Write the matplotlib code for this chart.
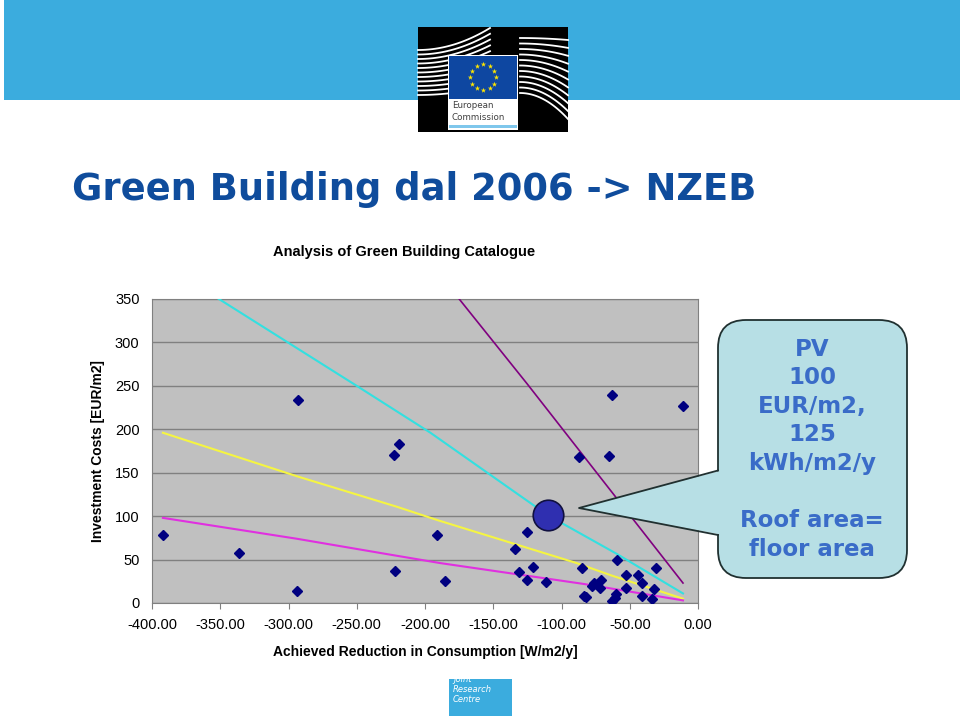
import numpy as np
import matplotlib
matplotlib.use("Agg")
import matplotlib.pyplot as plt
from matplotlib.patches import Rectangle, FancyBboxPatch, Polygon

# measured buildings from the catalogue: reduction [W/m2/y] vs cost [EUR/m2]
reduction = [-392, -336, -293, -294, -223, -219, -222, -191, -185, -125, -134,
             -131, -125, -121, -111, -87, -63, -65, -11, -85, -83.5, -82,
             -78, -76, -72, -71, -59, -63, -61, -60, -53, -53, -44, -41, -41,
             -33.5, -32, -31]
cost = [78, 57, 234, 14, 170, 183, 37, 78, 25, 82, 62,
        36, 27, 41, 24, 168, 239, 169, 227, 40, 8.5, 6.5,
        19.6, 22.7, 17.3, 27, 50, 2.3, 5.4, 10, 32, 17.7, 32, 22.7, 8,
        4.6, 16, 40]

# PV reference point
pv_x = [-110]
pv_y = [101]

# guide lines
purple_x = [-177, -125, -11]
purple_y = [354, 252, 23]
cyan_x = [-355, -250, -196, -110, -60, -11]
cyan_y = [354, 250, 196, 101, 57, 11]
yellow_x = [-392, -294, -221, -190, -89, -64, -11]
yellow_y = [196, 146, 111, 95, 46, 32, 5]
magenta_x = [-392, -294, -223, -189, -84, -11]
magenta_y = [98, 74, 55, 46, 22, 3]

x_ticks = [-400, -350, -300, -250, -200, -150, -100, -50, 0]
y_ticks = [0, 50, 100, 150, 200, 250, 300, 350]

callout_lines = ["PV", "100", "EUR/m2,", "125", "kWh/m2/y", "", "Roof area=", "floor area"]

W, H = 960, 716
fig = plt.figure(figsize=(W / 100, H / 100), dpi=100)
fig.patch.set_facecolor("white")

# pixel-space overlay for slide decorations
bg = fig.add_axes([0, 0, 1, 1])
bg.set_xlim(0, W)
bg.set_ylim(H, 0)
bg.axis("off")

bg.add_patch(Rectangle((4, 0), W - 4, 100, color="#3BACDE", lw=0))

# EC logo
bg.add_patch(Rectangle((418, 27), 150, 105, color="black", lw=0))
t = np.linspace(0, 1, 30)
for k in range(11):
    y0 = 50 + k * 4.5
    bg.plot(418 + 72 * t, y0 - (22 - k * 1.3) * t ** 2, color="white", lw=1.3, zorder=2)
for k in range(11):
    y0 = 38 + k * 5.5
    bg.plot(520 + 48 * t, y0 + (2 + k * 2.4) * t ** 2, color="white", lw=1.3, zorder=2)
bg.add_patch(Rectangle((448, 55), 70, 75, color="white", lw=0, zorder=3))
bg.add_patch(Rectangle((449, 56), 68, 43, color="#0E47A1", lw=0, zorder=3))
ang = np.linspace(0, 2 * np.pi, 13)[:-1]
bg.scatter(483 + 13 * np.cos(ang), 77 + 13 * np.sin(ang), marker="*", s=16,
           color="#FFE600", lw=0, zorder=4)
bg.text(452, 106, "European", fontsize=6.3, color="#404040", va="center", zorder=4)
bg.text(452, 117.5, "Commission", fontsize=6.3, color="#404040", va="center", zorder=4)
bg.add_patch(Rectangle((449, 125), 68, 3, color="#7FC7EC", lw=0, zorder=4))

# JRC logo at bottom
bg.add_patch(Rectangle((449, 679), 63, 37, color="#3BACDE", lw=0))
bg.text(453, 680, "Joint", fontsize=6, color="white", style="italic", va="center")
bg.text(453, 690, "Research", fontsize=6, color="white", style="italic", va="center")
bg.text(453, 699.5, "Centre", fontsize=6, color="white", style="italic", va="center")

fig.text(72 / W, 1 - 190 / H, "Green Building dal 2006 -> NZEB", fontsize=26.6,
         fontweight="bold", color="#0F4C9C", va="center", ha="left",
         family="DejaVu Sans")
fig.text(404 / W, 1 - 252 / H, "Analysis of Green Building Catalogue", fontsize=10.5,
         fontweight="bold", ha="center", va="center", family="Liberation Sans")

# chart
ax = fig.add_axes([152 / W, 1 - 603 / H, (698 - 152) / W, (603 - 299) / H])
ax.set_facecolor("#C0C0C0")
ax.set_xlim(-400, 0)
ax.set_ylim(0, 350)
ax.set_xticks(x_ticks)
ax.set_xticklabels([f"{v:.2f}" for v in x_ticks])
ax.set_yticks(y_ticks)
ax.grid(axis="y", color="#808080", lw=1)
ax.set_axisbelow(True)
for s in ax.spines.values():
    s.set_color("#808080")
ax.tick_params(axis="x", direction="out", length=4, color="#808080", pad=7,
               labelsize=10.5)
ax.tick_params(axis="y", length=0, pad=9, labelsize=10.5)
for lab in ax.get_xticklabels() + ax.get_yticklabels():
    lab.set_family("Liberation Sans")

ax.plot(purple_x, purple_y, color="#800080", lw=1.2, zorder=3)
ax.plot(cyan_x, cyan_y, color="#33E0E0", lw=1.5, zorder=3)
ax.plot(yellow_x, yellow_y, color="#F5F542", lw=1.5, zorder=3)
ax.plot(magenta_x, magenta_y, color="#E030E0", lw=1.5, zorder=3)
ax.plot(reduction, cost, ls="none", marker="D", ms=5.5, color="#000080", zorder=4)
ax.plot(pv_x, pv_y, ls="none", marker="o", ms=22, mfc="#2F2FB0", mec="#101040",
        mew=1.2, zorder=5, clip_on=False)

ax.set_xlabel("Achieved Reduction in Consumption [W/m2/y]", fontsize=10,
              fontweight="bold", family="Liberation Sans", labelpad=9)
ax.set_ylabel("Investment Costs [EUR/m2]", fontsize=10, fontweight="bold",
              family="Liberation Sans", labelpad=7)

# callout bubble on top of the chart
fg = fig.add_axes([0, 0, 1, 1])
fg.set_xlim(0, W)
fg.set_ylim(H, 0)
fg.axis("off")
fg.patch.set_alpha(0)
box_fc = "#B7DFE5"
fg.add_patch(FancyBboxPatch((718, 320), 189, 258,
                            boxstyle="round,pad=0,rounding_size=28",
                            fc=box_fc, ec="#203030", lw=1.3, zorder=5))
fg.add_patch(Polygon([(723, 470), (579, 508), (723, 535)], closed=True,
                     fc=box_fc, ec="none", zorder=6))
fg.plot([718, 579, 718], [470.5, 508, 535], color="#203030", lw=1.3, zorder=7)
for i, line in enumerate(callout_lines):
    fg.text(812, 349 + i * 28.6, line, fontsize=16.5, fontweight="bold",
            color="#3A6CC8", ha="center", va="center", family="DejaVu Sans",
            zorder=8)

fig.savefig("out.png", dpi=100)
